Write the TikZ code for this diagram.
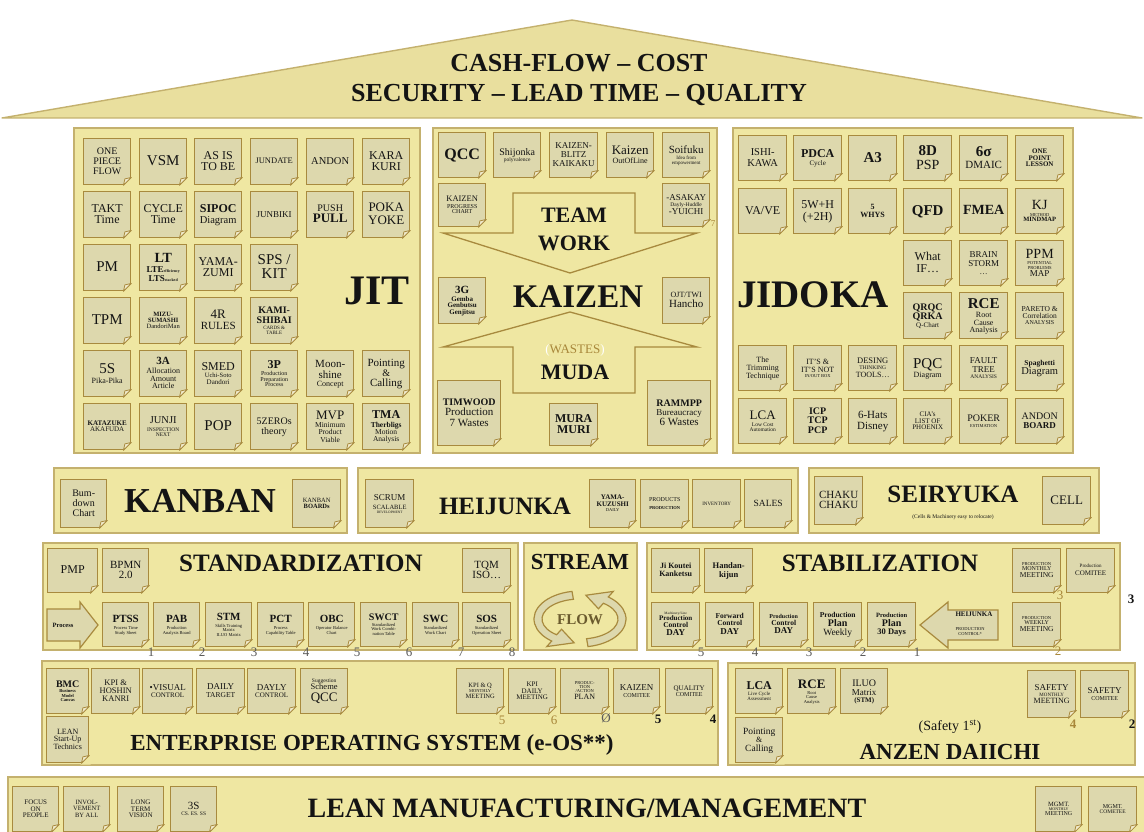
\documentclass[tikz,border=0pt]{standalone}
\usepackage{fontspec}
\setmainfont{Liberation Serif}
\usetikzlibrary{calc}

\definecolor{pillar}{HTML}{EFE7A2}
\definecolor{roofc}{HTML}{E9DF9E}
\definecolor{cardfill}{HTML}{DDD8AD}
\definecolor{cardedge}{HTML}{A88A3E}
\definecolor{foldc}{HTML}{F0EACB}
\definecolor{paneledge}{HTML}{C4B16E}
\definecolor{ink}{HTML}{141414}
\definecolor{goldnum}{HTML}{A8873A}
\definecolor{graynum}{HTML}{5A5A5A}
\definecolor{flowtxt}{HTML}{6B5B2E}

% one line of card text: size in pt, regular / bold, with a strut for even stacking
\newcommand\fz[1]{\fontsize{#1}{#1}\selectfont\rule[-.22em]{0pt}{.97em}}
\newcommand\fb[1]{\fontsize{#1}{#1}\selectfont\bfseries\rule[-.22em]{0pt}{.97em}}
\newcommand\tightlines{\fontsize{1}{1}\selectfont\lineskip 0pt\lineskiplimit 0pt\relax}

\tikzset{
  card/.style={draw=cardedge, fill=cardfill, line width=1.4pt, anchor=north west,
    align=center, inner sep=0.5pt, text=ink, font={\tightlines}},
  panel/.style={draw=paneledge, fill=pillar, line width=1.4pt},
  title/.style={text=ink, inner sep=0pt},
  num/.style={inner sep=0pt, font=\fontsize{13}{13}\selectfont},
  bigarrow/.style={draw=cardedge, fill=pillar, line width=1.3pt, line join=miter},
  smallarrow/.style={draw=cardedge, fill=cardfill, line width=1.2pt},
  flowarrow/.style={draw=cardedge, fill=cardfill, line width=1.2pt},
}

% dog-eared lower right corner of a card
\newcommand\fold[1]{%
  \fill[pillar] ([shift={(-9pt,-1.2pt)}]#1.south east) -- ([shift={(1.2pt,-1.2pt)}]#1.south east)
     -- ([shift={(1.2pt,9pt)}]#1.south east) -- cycle;
  \filldraw[fill=foldc, draw=cardedge, line width=.8pt, line join=round]
     ([xshift=-8pt]#1.south east) -- ([yshift=8pt]#1.south east)
     -- ([shift={(-6.5pt,6.5pt)}]#1.south east) -- cycle;}

% \card{name}{x}{y}{width}{height}{text}
\newcommand\card[6]{%
  \node[card, minimum width=#4, minimum height=#5] (#1) at (#2,#3) {#6};
  \fold{#1}}

\begin{document}
\begin{tikzpicture}[x=1pt,y=-1pt]
\clip (0,0) rectangle (1144,832);
\useasboundingbox (0,0) rectangle (1144,832);
\fill[white] (0,0) rectangle (1144,832);

% ---------- roof ----------
\filldraw[fill=roofc, draw=paneledge, line width=1.4pt, line join=round]
  (2,118) -- (572,20) -- (1142,118) -- cycle;
\node[title, font=\fontsize{26}{26}\selectfont\bfseries] (roof1) at (579,63) {CASH-FLOW – COST};
\node[title, font=\fontsize{26}{26}\selectfont\bfseries] (roof2) at (579,95) {SECURITY – LEAD TIME – QUALITY};

% ---------- JIT pillar ----------
\draw[panel] (74,128) rectangle (420,453);
\card{j11}{83}{138}{47}{46}{\fz{10}ONE\\\fz{10}PIECE\\\fz{10}FLOW}
\card{j12}{139}{138}{47}{46}{\fz{15}VSM}
\card{j13}{194}{138}{47}{46}{\fz{12}AS IS\\\fz{12}TO BE}
\card{j14}{250}{138}{47}{46}{\fz{8.5}JUNDATE}
\card{j15}{306}{138}{47}{46}{\fz{10.5}ANDON}
\card{j16}{362}{138}{47}{46}{\fz{12}KARA\\\fz{12}KURI}
\card{j21}{83}{191}{47}{46}{\fz{12}TAKT\\\fz{12}Time}
\card{j22}{139}{191}{47}{46}{\fz{12}CYCLE\\\fz{12}Time}
\card{j23}{194}{191}{47}{46}{\fb{12}SIPOC\\\fz{10.5}Diagram}
\card{j24}{250}{191}{47}{46}{\fz{9}JUNBIKI}
\card{j25}{306}{191}{47}{46}{\fz{10}PUSH\\\fb{13}PULL}
\card{j26}{362}{191}{47}{46}{\fz{13}POKA\\\fz{13}YOKE}
\card{j31}{83}{244}{47}{46}{\fz{15}PM}
\card{j32}{139}{244}{47}{46}{\fb{14}LT\\\fb{9}LTE{\fontsize{4}{4}\selectfont efficiency}\\\fb{9}LTS{\fontsize{4}{4}\selectfont stacked}}
\card{j33}{194}{244}{47}{46}{\fz{12}YAMA-\\\fz{12}ZUMI}
\card{j34}{250}{244}{47}{46}{\fz{15}SPS /\\\fz{15}KIT}
\card{j41}{83}{297}{47}{46}{\fz{15}TPM}
\card{j42}{139}{297}{47}{46}{\fb{6.5}MIZU-\\\fb{6.5}SUMASHI\\\fz{6.5}DandoriMan}
\card{j43}{194}{297}{47}{46}{\fz{13}4R\\\fz{11}RULES}
\card{j44}{250}{297}{47}{46}{\fb{10}KAMI-\\\fb{10}SHIBAI\\\fz{5}CARDS \&\\\fz{5}TABLE}
\card{j51}{83}{350}{47}{46}{\fz{15}5S\\\fz{8}Pika-Pika}
\card{j52}{139}{350}{47}{46}{\fb{11}3A\\\fz{8}Allocation\\\fz{8}Amount\\\fz{8}Article}
\card{j53}{194}{350}{47}{46}{\fz{12}SMED\\\fz{6.5}Uchi-Soto\\\fz{7}Dandori}
\card{j54}{250}{350}{47}{46}{\fb{12}3P\\\fz{6}Production\\\fz{6}Preparation\\\fz{6}Process}
\card{j55}{306}{350}{47}{46}{\fz{11}Moon-\\\fz{11}shine\\\fz{8}Concept}
\card{j56}{362}{350}{47}{46}{\fz{11}Pointing\\\fz{10}\&\\\fz{11}Calling}
\card{j61}{83}{403}{47}{46}{\fb{7}KATAZUKE\\\fz{7}AKAFUDA}
\card{j62}{139}{403}{47}{46}{\fz{10.5}JUNJI\\[1pt]\fz{5.5}INSPECTION\\\fz{5.5}NEXT}
\card{j63}{194}{403}{47}{46}{\fz{15}POP}
\card{j64}{250}{403}{47}{46}{\fz{10}5ZEROs\\\fz{10}theory}
\card{j65}{306}{403}{47}{46}{\fz{13}MVP\\\fz{7.5}Minimum\\\fz{7.5}Product\\\fz{7.5}Viable}
\card{j66}{362}{403}{47}{46}{\fb{12}TMA\\\fb{7.5}Therbligs\\\fz{7.5}Motion\\\fz{7.5}Analysis}
\node[title, font=\fontsize{42}{42}\selectfont\bfseries] (jit) at (377,291) {JIT};

% ---------- KAIZEN pillar ----------
\draw[panel] (433,128) rectangle (717,453);
\filldraw[bigarrow] (513,193) -- (635,193) -- (635,233) -- (697,233) -- (570,273)
  -- (443,233) -- (513,233) -- cycle;
\filldraw[bigarrow] (570,312) -- (697,347) -- (635,347) -- (635,393) -- (513,393)
  -- (513,347) -- (443,347) -- cycle;
\card{k1}{438}{132}{47}{45}{\fb{16}QCC}
\card{k2}{493}{132}{47}{45}{\fz{10}Shijonka\\\fz{5.5}polyvalence}
\card{k3}{549}{132}{48}{45}{\fz{9}KAIZEN-\\\fz{9}BLITZ\\\fz{9}KAIKAKU}
\card{k4}{606}{132}{47}{45}{\fz{13}Kaizen\\\fz{8}OutOfLine}
\card{k5}{662}{132}{47}{45}{\fz{11}Soifuku\\\fz{5}Idea from\\\fz{5}empowerment}
\card{k6}{438}{183}{47}{43}{\fz{8.5}KAIZEN\\\fz{6}PROGRESS\\\fz{6}CHART}
\card{k7}{662}{183}{47}{43}{\fz{9}-ASAKAY\\\fz{5.5}Dayly-Huddle\\\fz{9}-YUICHI}
\card{k8}{438}{277}{47}{46}{\fb{11}3G\\\fb{7}Gemba\\\fb{7}Genbutsu\\\fb{7}Genjitsu}
\card{k9}{662}{277}{47}{46}{\fz{8}OJT/TWI\\\fz{11}Hancho}
\card{k10}{437}{380}{63}{65}{\fb{10}TIMWOOD\\\fz{11}Production\\\fz{11}7 Wastes}
\card{k11}{549}{403}{48}{42}{\fb{12}MURA\\\fb{12}MURI}
\card{k12}{647}{380}{63}{65}{\fb{10}RAMMPP\\\fz{9}Bureaucracy\\\fz{11}6 Wastes}
\node[num, text=goldnum, font=\fontsize{9}{9}\selectfont] (k7n) at (713,224) {7};
\node[title, font=\fontsize{22}{22}\selectfont\bfseries] (team) at (574,215) {TEAM};
\node[title, font=\fontsize{22}{22}\selectfont\bfseries] (work) at (574,243) {WORK};
\node[title, font=\fontsize{33}{33}\selectfont\bfseries] (kaizen) at (578,297) {KAIZEN};
\node[title, font=\fontsize{13}{13}\selectfont] (wastes) at (575,350)
  {\textcolor{white}{(}\textcolor{goldnum}{WASTES}\textcolor{white}{)}};
\node[title, font=\fontsize{22}{22}\selectfont\bfseries] (muda) at (575,372) {MUDA};

% ---------- JIDOKA pillar ----------
\draw[panel] (733,128) rectangle (1073,453);
\card{d11}{738}{135}{48}{45}{\fz{10.5}ISHI-\\\fz{10.5}KAWA}
\card{d12}{793}{135}{48}{45}{\fb{12}PDCA\\\fz{7}Cycle}
\card{d13}{848}{135}{48}{45}{\fb{15}A3}
\card{d14}{903}{135}{48}{45}{\fb{15}8D\\\fz{14}PSP}
\card{d15}{959}{135}{48}{45}{\fb{15}6σ\\\fz{11}DMAIC}
\card{d16}{1015}{135}{48}{45}{\fb{7}ONE\\\fb{7}POINT\\\fb{7}LESSON}
\card{d21}{738}{188}{48}{45}{\fz{12}VA/VE}
\card{d22}{793}{188}{48}{45}{\fz{12}5W+H\\\fz{12}(+2H)}
\card{d23}{848}{188}{48}{45}{\fb{8}5\\\fb{8}WHYS}
\card{d24}{903}{188}{48}{45}{\fb{15}QFD}
\card{d25}{959}{188}{48}{45}{\fb{14}FMEA}
\card{d26}{1015}{188}{48}{45}{\fz{14}KJ\\\fz{4.5}METHOD\\\fb{6.5}MINDMAP}
\card{d34}{903}{240}{48}{45}{\fz{12}What\\\fz{12}IF\ldots}
\card{d35}{959}{240}{48}{45}{\fz{9}BRAIN\\\fz{9}STORM\\\fz{8}\ldots}
\card{d36}{1015}{240}{48}{45}{\fz{14}PPM\\\fz{4.5}POTENTIAL\\\fz{4.5}PROBLEMS\\\fz{9}MAP}
\card{d44}{903}{292}{48}{46}{\fb{10}QRQC\\\fb{10}QRKA\\\fz{7}Q-Chart}
\card{d45}{959}{292}{48}{46}{\fb{15}RCE\\\fz{8}Root\\\fz{8}Cause\\\fz{8}Analysis}
\card{d46}{1015}{292}{48}{46}{\fz{7.5}PARETO \&\\\fz{7.5}Correlation\\\fz{6}ANALYSIS}
\card{d51}{738}{345}{48}{45}{\fz{8}The\\\fz{8}Trimming\\\fz{8}Technique}
\card{d52}{793}{345}{48}{45}{\fz{8}IT'S \&\\\fz{8}IT'S NOT\\\fz{4.5}IN/OUT BOX}
\card{d53}{848}{345}{48}{45}{\fz{8.5}DESING\\\fz{5.5}THINKING\\\fz{8}TOOLS\ldots}
\card{d54}{903}{345}{48}{45}{\fz{15}PQC\\\fz{8}Diagram}
\card{d55}{959}{345}{48}{45}{\fz{9}FAULT\\\fz{9}TREE\\\fz{5.5}ANALYSIS}
\card{d56}{1015}{345}{48}{45}{\fb{7.5}Spaghetti\\\fz{10.5}Diagram}
\card{d61}{738}{398}{48}{45}{\fz{13}LCA\\\fz{5.5}Low Cost\\\fz{5.5}Automation}
\card{d62}{793}{398}{48}{45}{\fb{10}ICP\\\fb{10}TCP\\\fb{10}PCP}
\card{d63}{848}{398}{48}{45}{\fz{11}6-Hats\\\fz{11}Disney}
\card{d64}{903}{398}{48}{45}{\fz{7}CIA's\\\fz{7}LIST OF\\\fz{7}PHOENIX}
\card{d65}{959}{398}{48}{45}{\fz{10}POKER\\\fz{4.5}ESTIMATION}
\card{d66}{1015}{398}{48}{45}{\fz{10}ANDON\\\fb{9}BOARD}
\node[title, font=\fontsize{39}{39}\selectfont\bfseries] (jidoka) at (813,295) {JIDOKA};

% ---------- KANBAN / HEIJUNKA / SEIRYUKA ----------
\draw[panel] (54,468) rectangle (347,533);
\card{b1}{60}{479}{46}{48}{\fz{10}Bum-\\\fz{10}down\\\fz{10}Chart}
\card{b2}{292}{479}{48}{48}{\fz{6.5}KANBAN\\\fb{6.5}BOARDs}
\node[title, font=\fontsize{35}{35}\selectfont\bfseries] (kanban) at (200,501) {KANBAN};

\draw[panel] (358,468) rectangle (798,533);
\card{b3}{365}{479}{48}{48}{\fz{9}SCRUM\\[2pt]\fz{6.5}SCALABLE\\\fz{3.5}DEVELOPMENT}
\card{b4}{589}{479}{46}{48}{\fb{7}YAMA-\\\fb{7}KUZUSHI\\\fz{4.5}DAILY}
\card{b5}{640}{479}{48}{48}{\fz{6}PRODUCTS\\[4pt]\fb{4.5}PRODUCTION}
\card{b6}{692}{479}{48}{48}{\fz{5}INVENTORY}
\card{b7}{744}{479}{47}{48}{\fz{9.5}SALES}
\node[title, font=\fontsize{25}{25}\selectfont\bfseries] (heijunka) at (505,506) {HEIJUNKA};

\draw[panel] (809,468) rectangle (1099,533);
\card{b8}{814}{476}{48}{48}{\fz{11}CHAKU\\\fz{11}CHAKU}
\card{b9}{1042}{476}{48}{48}{\fz{13}CELL}
\node[title, font=\fontsize{25}{25}\selectfont\bfseries] (seiryuka) at (953,494) {SEIRYUKA};
\node[title, font=\fontsize{5.5}{5.5}\selectfont] (seirsub) at (953,517) {(Cells \& Machinery easy to relocate)};

% ---------- STANDARDIZATION ----------
\draw[panel] (43,543) rectangle (518,650);
\card{s1}{47}{548}{50}{44}{\fz{12}PMP}
\card{s2}{102}{548}{46}{44}{\fz{11}BPMN\\\fz{11}2.0}
\card{s3}{462}{548}{48}{44}{\fz{11}TQM\\\fz{11}ISO\ldots}
\node[title, font=\fontsize{25}{25}\selectfont\bfseries] (standard) at (301,563) {STANDARDIZATION};
\filldraw[smallarrow] (47,609) -- (80,609) -- (80,602) -- (98,625) -- (80,648) -- (80,641) -- (47,641) -- cycle;
\node[title, font=\fontsize{6.5}{6.5}\selectfont\bfseries] (process) at (63,625) {Process};
\card{p1}{102}{602}{46}{44}{\fb{11}PTSS\\[1pt]\fz{4.5}Process Time\\[1pt]\fz{4.5}Study Sheet}
\card{p2}{153}{602}{46}{44}{\fb{11}PAB\\[1pt]\fz{4.5}Production\\[1pt]\fz{4.5}Analysis Board}
\card{p3}{205}{602}{46}{44}{\fb{11}STM\\[1pt]\fz{4.5}Skills Training\\\fz{4.5}Matrix\\\fz{4.5}ILUO Matrix}
\card{p4}{257}{602}{46}{44}{\fb{11}PCT\\[1pt]\fz{4.5}Process\\[1pt]\fz{4.5}Capability Table}
\card{p5}{308}{602}{46}{44}{\fb{11}OBC\\[1pt]\fz{4.5}Operator Balance\\[1pt]\fz{4.5}Chart}
\card{p6}{360}{602}{46}{44}{\fb{10}SWCT\\\fz{4.5}Standardized\\\fz{4.5}Work Combi-\\\fz{4.5}nation Table}
\card{p7}{412}{602}{46}{44}{\fb{11}SWC\\[1pt]\fz{4.5}Standardized\\[1pt]\fz{4.5}Work Chart}
\card{p8}{462}{602}{48}{44}{\fb{11}SOS\\[1pt]\fz{4.5}Standardized\\[1pt]\fz{4.5}Operation Sheet}
\foreach \xx [count=\i] in {151,202,254,306,357,409,461,512}
  \node[num, text=graynum] (pn\i) at (\xx,652) {\i};

% ---------- STREAM ----------
\draw[panel] (524,543) rectangle (637,650);
\node[title, font=\fontsize{23}{23}\selectfont\bfseries] (stream) at (580,562) {STREAM};
\begin{scope}[shift={(580,619)}, y=1pt]
  \filldraw[flowarrow] (100:46 and 28) arc[start angle=100, end angle=232, x radius=46, y radius=28]
    -- (232:54 and 35) -- (262:42 and 24) -- (232:30 and 13) -- (232:38 and 20)
    arc[start angle=232, end angle=100, x radius=38, y radius=20] -- cycle;
  \filldraw[flowarrow] (280:46 and 28) arc[start angle=280, end angle=412, x radius=46, y radius=28]
    -- (412:54 and 35) -- (442:42 and 24) -- (412:30 and 13) -- (412:38 and 20)
    arc[start angle=412, end angle=280, x radius=38, y radius=20] -- cycle;
\end{scope}
\node[title, text=flowtxt, font=\fontsize{15}{15}\selectfont\bfseries] (flow) at (580,620) {FLOW};

% ---------- STABILIZATION ----------
\draw[panel] (647,543) rectangle (1120,650);
\card{t1}{651}{548}{48}{44}{\fb{8}Ji Koutei\\\fb{8}Kanketsu}
\card{t2}{704}{548}{48}{44}{\fb{8.5}Handan-\\\fb{8.5}kijun}
\node[title, font=\fontsize{25}{25}\selectfont\bfseries] (stabil) at (880,563) {STABILIZATION};
\card{t3}{1012}{548}{48}{44}{\fz{4.5}PRODUCTION\\\fz{6}MONTHLY\\\fz{7.5}MEETING}
\card{t4}{1066}{548}{48}{44}{\fz{5}Production\\[2pt]\fz{7}COMITEE}
\card{t5}{1012}{602}{48}{44}{\fz{4.5}PRODUCTION\\\fz{6}WEEKLY\\\fz{7.5}MEETING}
\card{t6}{651}{602}{48}{44}{\fz{3.5}Machinery/Line\\\fb{7}Production\\\fb{7.5}Control\\\fb{9}DAY}
\card{t7}{705}{602}{48}{44}{\fb{7.5}Forward\\\fb{7.5}Control\\\fb{9}DAY}
\card{t8}{759}{602}{48}{44}{\fb{6}Production\\\fb{7.5}Control\\\fb{9}DAY}
\card{t9}{813}{602}{48}{44}{\fb{7.5}Production\\\fb{10}Plan\\\fz{9.5}Weekly}
\card{t10}{867}{602}{48}{44}{\fb{6.5}Production\\\fb{10}Plan\\\fb{8.5}30 Days}
\filldraw[smallarrow] (998,610) -- (948,610) -- (948,602) -- (920,625) -- (948,648) -- (948,640) -- (998,640) -- cycle;
\node[title, font=\fontsize{7}{7}\selectfont\bfseries] (hjarrow) at (974,614) {HEIJUNKA};
\node[title, align=center, font=\fontsize{4.5}{5}\selectfont] (pcarrow) at (970,632) {PRODUCTION\\CONTROL*};
\foreach \xx/\lab [count=\i] in {701/5,755/4,809/3,863/2,917/1}
  \node[num, text=graynum] (tn\i) at (\xx,652) {\lab};
\node[num, text=goldnum] (t3n) at (1060,595) {3};
\node[num, text=ink, font=\fontsize{13}{13}\selectfont\bfseries] (t4n) at (1131,599) {3};
\node[num, text=goldnum] (t5n) at (1058,651) {2};

% ---------- ENTERPRISE OPERATING SYSTEM ----------
\draw[panel] (42,661) rectangle (718,765);
\card{e1}{46}{668}{42}{45}{\fb{10}BMC\\\fb{4.5}Business\\\fb{4.5}Model\\\fb{4.5}Canvas}
\card{e2}{91}{668}{48}{45}{\fz{8.5}KPI \&\\\fz{8.5}HOSHIN\\\fz{8.5}KANRI}
\card{e3}{142}{668}{50}{45}{\fz{9}•VISUAL\\\fz{7}CONTROL}
\card{e4}{196}{668}{48}{45}{\fz{9}DAILY\\\fz{7.5}TARGET}
\card{e5}{247}{668}{48}{45}{\fz{9}DAYLY\\\fz{7}CONTROL}
\card{e6}{300}{668}{47}{45}{\fz{5.5}Suggestion\\\fz{8.5}Scheme\\\fz{13}QCC}
\card{e7}{456}{668}{47}{45}{\fz{6.5}KPI \& Q\\\fz{4.5}MONTHLY\\\fz{6.5}MEETING}
\card{e8}{508}{668}{47}{45}{\fz{7}KPI\\\fz{7}DAILY\\\fz{7}MEETING}
\card{e9}{560}{668}{48}{45}{\fz{4.5}PRODUC-\\\fz{4.5}TION\\\fz{4.5}/ACTION\\\fz{8}PLAN}
\card{e10}{613}{668}{46}{45}{\fz{9}KAIZEN\\\fz{6}COMITEE}
\card{e11}{665}{668}{47}{45}{\fz{7}QUALITY\\\fz{6}COMITEE}
\card{e12}{46}{716}{42}{46}{\fz{8}LEAN\\\fz{8}Start-Up\\\fz{8}Technics}
\node[num, text=goldnum] (e7n) at (502,720) {5};
\node[num, text=goldnum] (e8n) at (554,720) {6};
\node[num, text=graynum] (e9n) at (606,718) {Ø};
\node[num, text=ink, font=\fontsize{13}{13}\selectfont\bfseries] (e10n) at (658,719) {5};
\node[num, text=ink, font=\fontsize{13}{13}\selectfont\bfseries] (e11n) at (713,719) {4};
\node[title, font=\fontsize{23}{23}\selectfont\bfseries] (eos) at (372,745) {ENTERPRISE OPERATING SYSTEM (e-OS**)};

% ---------- ANZEN DAIICHI ----------
\draw[panel] (728,663) rectangle (1135,765);
\card{a1}{735}{668}{47}{45}{\fb{12}LCA\\\fz{5}Live Cycle\\\fz{5}Assessment}
\card{a2}{787}{668}{48}{45}{\fb{13}RCE\\\fz{4.5}Root\\\fz{4.5}Cause\\\fz{4.5}Analysis}
\card{a3}{840}{668}{47}{45}{\fz{10}ILUO\\\fz{9}Matrix\\\fb{7}(STM)}
\card{a4}{735}{717}{47}{45}{\fz{9.5}Pointing\\\fz{8}\&\\\fz{9.5}Calling}
\card{a5}{1027}{670}{48}{47}{\fz{9}SAFETY\\\fz{5}MONTHLY\\\fz{8}MEETING}
\card{a6}{1080}{670}{48}{47}{\fz{9}SAFETY\\\fz{6}COMITEE}
\node[num, text=goldnum, font=\fontsize{13}{13}\selectfont\bfseries] (a5n) at (1073,724) {4};
\node[num, text=ink, font=\fontsize{13}{13}\selectfont\bfseries] (a6n) at (1132,724) {2};
\node[title, font=\fontsize{14}{14}\selectfont] (safety) at (950,727) {(Safety 1\textsuperscript{st})};
\node[title, font=\fontsize{23}{23}\selectfont\bfseries] (anzen) at (950,752) {ANZEN DAIICHI};

% ---------- LEAN MANUFACTURING / MANAGEMENT ----------
\draw[panel] (8,777) rectangle (1150,840);
\card{l1}{12}{786}{46}{45}{\fz{7}FOCUS\\\fz{7}ON\\\fz{7}PEOPLE}
\card{l2}{63}{786}{46}{45}{\fz{6.5}INVOL-\\\fz{6.5}VEMENT\\\fz{6.5}BY ALL}
\card{l3}{117}{786}{46}{45}{\fz{7}LONG\\\fz{7}TERM\\\fz{7}VISION}
\card{l4}{170}{786}{46}{45}{\fz{11}3S\\\fz{5.5}CS. ES. SS}
\card{l5}{1035}{786}{46}{45}{\fz{6.5}MGMT.\\\fz{4}MONTHLY\\\fz{6}MEETING}
\card{l6}{1088}{786}{48}{45}{\fz{6}MGMT.\\\fz{5.5}COMETEE}
\node[title, font=\fontsize{28}{28}\selectfont\bfseries] (lean) at (587,808) {LEAN MANUFACTURING/MANAGEMENT};
\end{tikzpicture}
\end{document}
